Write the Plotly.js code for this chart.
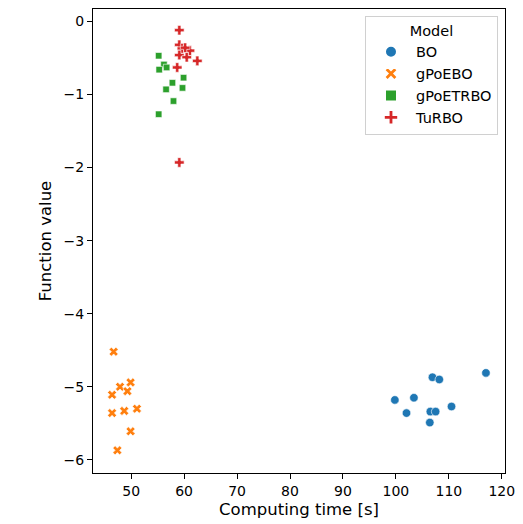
<!DOCTYPE html>
<html>
<head>
<meta charset="utf-8">
<script src="https://cdn.plot.ly/plotly-3.0.1.min.js"></script>
<style>html,body{margin:0;padding:0;background:#fff;}#chart{width:523px;height:524px;}</style>
</head>
<body>
<div id="chart"></div>
<script>
const boX = [117.0, 106.9, 108.2, 99.8, 103.4, 102.0, 106.5, 107.5, 110.5, 106.4];
const boY = [-4.81, -4.87, -4.90, -5.18, -5.15, -5.36, -5.34, -5.34, -5.27, -5.49];
const gpoeboX = [46.7, 49.9, 47.9, 49.3, 46.4, 46.4, 48.7, 51.1, 49.9, 47.4];
const gpoeboY = [-4.52, -4.94, -5.00, -5.06, -5.11, -5.36, -5.33, -5.30, -5.61, -5.87];
const gpoetrboX = [55.2, 56.2, 55.3, 56.7, 59.9, 57.8, 56.6, 59.7, 58.0, 55.2];
const gpoetrboY = [-0.47, -0.59, -0.66, -0.63, -0.77, -0.84, -0.93, -0.91, -1.09, -1.27];
const turboX = [59.1, 59.1, 59.6, 61.1, 59.1, 60.5, 62.5, 58.7, 59.1, 60.2];
const turboY = [-0.12, -0.32, -0.37, -0.40, -0.46, -0.49, -0.54, -0.63, -1.93, -0.36];
const seriesNames = ["BO", "gPoEBO", "gPoETRBO", "TuRBO"];

const styles = [
  {color: "#1f77b4", symbol: "circle", size: 8.5},
  {color: "#ff7f0e", symbol: "x", size: 8},
  {color: "#2ca02c", symbol: "square", size: 6.5},
  {color: "#d62728", symbol: "cross", size: 8}
];
const xs = [boX, gpoeboX, gpoetrboX, turboX];
const ys = [boY, gpoeboY, gpoetrboY, turboY];

const traces = seriesNames.map((n, i) => ({
  type: "scatter", mode: "markers", name: n,
  x: xs[i], y: ys[i],
  marker: {color: styles[i].color, symbol: styles[i].symbol, size: styles[i].size,
           line: {color: "#ffffff", width: 0.6}}
}));

const layout = {
  width: 523, height: 524,
  margin: {l: 93, r: 18, t: 9, b: 51},
  paper_bgcolor: "#fff", plot_bgcolor: "#fff",
  font: {family: "DejaVu Sans", size: 14, color: "#000"},
  showlegend: true,
  legend: {
    x: 0.983, xanchor: "right", y: 0.985, yanchor: "top",
    bordercolor: "#d0d0d0", borderwidth: 1, bgcolor: "rgba(255,255,255,0.8)",
    font: {family: "DejaVu Sans", size: 14.5, color: "#000"},
    title: {text: "Model", side: "top center", font: {family: "DejaVu Sans", size: 14.5, color: "#000"}},
    itemsizing: "constant", itemwidth: 40, tracegroupgap: 5
  },
  xaxis: {
    range: [42.8, 120.6], dtick: 10, tick0: 50,
    showgrid: false, zeroline: false,
    showline: true, mirror: true, linecolor: "#000", linewidth: 1,
    ticks: "outside", ticklen: 5, tickcolor: "#000",
    tickfont: {family: "DejaVu Sans", size: 14, color: "#000"},
    title: {text: "Computing time [s]", font: {family: "DejaVu Sans", size: 16.5, color: "#000"}, standoff: 5}
  },
  yaxis: {
    range: [-6.18, 0.17], dtick: 1, tick0: 0,
    showgrid: false, zeroline: false,
    showline: true, mirror: true, linecolor: "#000", linewidth: 1,
    ticks: "outside", ticklen: 5, tickcolor: "#000",
    tickfont: {family: "DejaVu Sans", size: 14, color: "#000"},
    title: {text: "Function value", font: {family: "DejaVu Sans", size: 16.5, color: "#000"}, standoff: 7}
  }
};
Plotly.newPlot("chart", traces, layout, {displayModeBar: false, staticPlot: true});
</script>
</body>
</html>
